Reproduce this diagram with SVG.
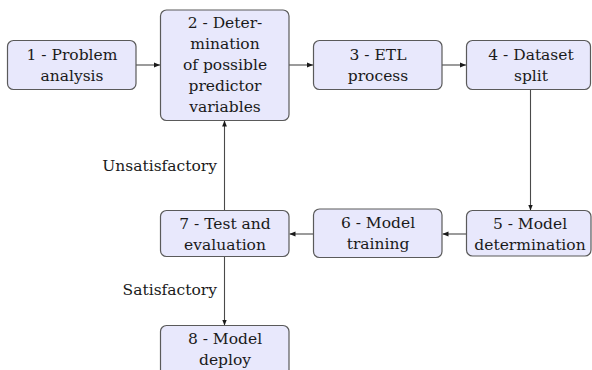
<svg xmlns="http://www.w3.org/2000/svg" width="592" height="370" viewBox="0 0 592 370">
  <style>
    .box { fill: #e8e8fc; stroke: #5a5a5a; stroke-width: 1.2; }
    .edge { stroke: #4a4a4a; stroke-width: 1.1; fill: none; marker-end: url(#tip); }
  </style>
  <defs>
    <marker id="tip" viewBox="0 0 10 10" refX="10" refY="5" markerWidth="6" markerHeight="6" markerUnits="userSpaceOnUse" orient="auto">
      <path d="M0,1 L10,5 L0,9 Z" fill="#1a1a1a"/>
    </marker>
  </defs>

  <g font-family="DejaVu Serif, serif" font-size="15.5" fill="#1a1a1a">
  <g id="connectors">
    <line class="edge" x1="136" y1="65" x2="160" y2="65"/>
    <line class="edge" x1="289" y1="65" x2="313" y2="65"/>
    <line class="edge" x1="442" y1="65" x2="466" y2="65"/>
    <line class="edge" x1="530.5" y1="90" x2="530.5" y2="210.5"/>
    <line class="edge" x1="466.5" y1="234" x2="442.5" y2="234"/>
    <line class="edge" x1="313.5" y1="234" x2="289.5" y2="234"/>
    <line class="edge" x1="224.5" y1="210.5" x2="224.5" y2="120.5"/>
    <line class="edge" x1="224.5" y1="256.5" x2="224.5" y2="325.5"/>
    <text text-anchor="end" x="217" y="171">Unsatisfactory</text>
    <text text-anchor="end" x="217" y="295">Satisfactory</text>
  </g>

  <g text-anchor="middle">
  <g id="n1">
    <rect class="box" x="7.5" y="40.5" width="128.5" height="49" rx="6"/>
    <text x="72" y="60">1 - Problem</text>
    <text x="72" y="81">analysis</text>
  </g>
  <g id="n2">
    <rect class="box" x="160.5" y="10" width="128.5" height="110.5" rx="6"/>
    <text x="225" y="28">2 - Deter-</text>
    <text x="225" y="49">mination</text>
    <text x="225" y="70">of possible</text>
    <text x="225" y="91">predictor</text>
    <text x="225" y="112">variables</text>
  </g>
  <g id="n3">
    <rect class="box" x="313.5" y="40.5" width="128.5" height="49" rx="6"/>
    <text x="378" y="60">3 - ETL</text>
    <text x="378" y="81">process</text>
  </g>
  <g id="n4">
    <rect class="box" x="466.5" y="40.5" width="124" height="49" rx="6"/>
    <text x="531" y="60">4 - Dataset</text>
    <text x="531" y="81">split</text>
  </g>
  <g id="n5">
    <rect class="box" x="466.5" y="210.5" width="124.5" height="45.5" rx="6"/>
    <text x="530" y="229">5 - Model</text>
    <text x="530" y="250">determination</text>
  </g>
  <g id="n6">
    <rect class="box" x="313.5" y="209" width="128.5" height="48.5" rx="6"/>
    <text x="378" y="228">6 - Model</text>
    <text x="378" y="249">training</text>
  </g>
  <g id="n7">
    <rect class="box" x="160.5" y="210.5" width="128.5" height="46" rx="6"/>
    <text x="225" y="229">7 - Test and</text>
    <text x="225" y="250">evaluation</text>
  </g>
  <g id="n8">
    <rect class="box" x="160.5" y="325.5" width="128.5" height="60" rx="6"/>
    <text x="225" y="344">8 - Model</text>
    <text x="225" y="365">deploy</text>
  </g>
  </g>
  </g>
</svg>
